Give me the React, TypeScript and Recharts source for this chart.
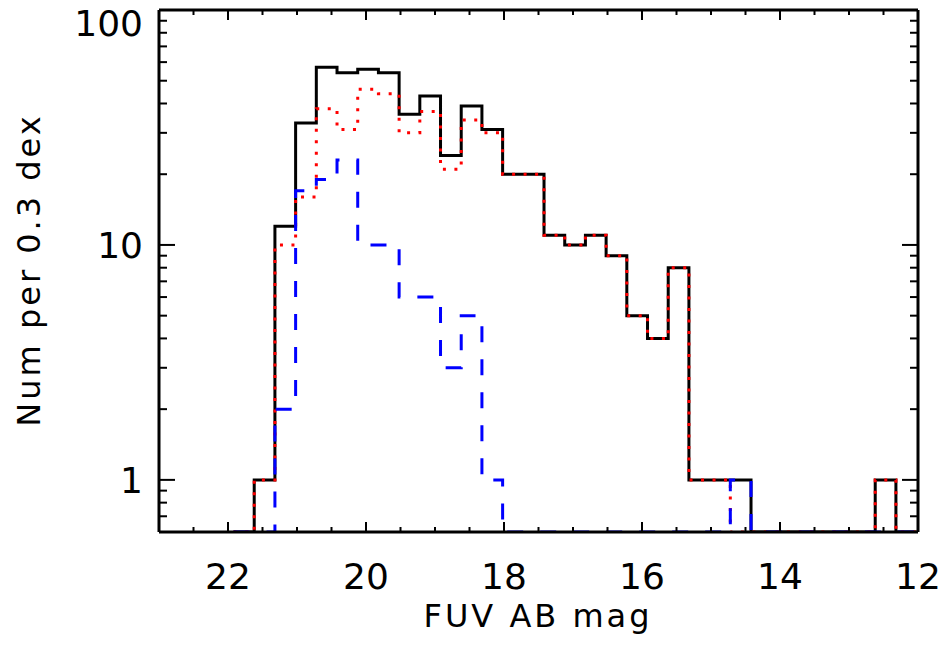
import { LineChart, Line, XAxis, YAxis } from 'recharts';

// bin edges in FUV AB mag, 0.3 mag wide, faint -> bright
const binEdges = [
  21.62, 21.32, 21.02, 20.72, 20.42, 20.12, 19.82, 19.52, 19.22, 18.92, 18.62,
  18.32, 18.02, 17.72, 17.42, 17.12, 16.82, 16.52, 16.22, 15.92, 15.62, 15.32,
  15.02, 14.72, 14.42, 14.12, 13.82, 13.52, 13.22, 12.92, 12.62, 12.32,
];

const totalCounts = [
  1, 12, 33, 57, 54, 56, 54, 36, 43, 24, 39, 31, 20, 20, 11, 10, 11, 9, 5, 4, 8,
  1, 1, 1, 0, 0, 0, 0, 0, 0, 1,
];
const redCounts = [
  1, 10, 16, 38, 31, 46, 44, 30, 37, 21, 34, 30, 20, 20, 11, 10, 11, 9, 5, 4, 8,
  1, 1, 0, 0, 0, 0, 0, 0, 0, 1,
];
const blueCounts = [
  0, 2, 17, 19, 23, 10, 10, 6, 6, 3, 5, 1, 0, 0, 0, 0, 0, 0, 0, 0, 0,
  0, 0, 1, 0, 0, 0, 0, 0, 0, 0,
];

const xTicks = [
  22.5, 22, 21.5, 21, 20.5, 20, 19.5, 19, 18.5, 18, 17.5, 17, 16.5, 16, 15.5,
  15, 14.5, 14, 13.5, 13, 12.5, 12,
];
const xLabels = [22, 20, 18, 16, 14, 12];
const yTicks = [
  0.7, 0.8, 0.9, 1, 2, 3, 4, 5, 6, 7, 8, 9, 10, 20, 30, 40, 50, 60, 70, 80, 90, 100,
];
const yLabels = [1, 10, 100];

const FLOOR = 0.6;
const Y_MAX = 100;
const font = "'DejaVu Sans', sans-serif";

const lift = (v: number) => (v > 0 ? v : FLOOR);

// one row per bin edge; stepAfter draws the bin to the next edge
const rows = [
  { x: 21.92, total: FLOOR, red: FLOOR, blue: FLOOR },
  ...binEdges.slice(0, totalCounts.length).map((x, i) => ({
    x,
    total: lift(totalCounts[i]),
    red: lift(redCounts[i]),
    blue: lift(blueCounts[i]),
  })),
  { x: binEdges[binEdges.length - 1], total: FLOOR, red: FLOOR, blue: FLOOR },
  { x: 12.02, total: FLOOR, red: FLOOR, blue: FLOOR },
];

function XTick(props: any) {
  const { x, y, payload, side } = props;
  const v = payload.value;
  const major = xLabels.includes(v);
  const len = major ? 10 : 5;
  const dir = side === 'bottom' ? -1 : 1;
  return (
    <g>
      <line x1={x} x2={x} y1={y} y2={y + dir * len} stroke="#000" strokeWidth={2} />
      {side === 'bottom' && major && (
        <text x={x} y={y + 57} textAnchor="middle" fontFamily={font} fontSize={36} fill="#000">
          {v}
        </text>
      )}
    </g>
  );
}

function YTick(props: any) {
  const { x, y, payload, side } = props;
  const v = payload.value;
  const major = yLabels.includes(v);
  const len = major ? 16 : 8;
  const dir = side === 'left' ? 1 : -1;
  return (
    <g>
      <line x1={x} x2={x + dir * len} y1={y} y2={y} stroke="#000" strokeWidth={2} />
      {side === 'left' && major && (
        <text
          x={x - 16}
          y={v === 100 ? y + 26 : y + 13}
          textAnchor="end"
          fontFamily={font}
          fontSize={36}
          fill="#000"
        >
          {v}
        </text>
      )}
    </g>
  );
}

const axisLine = { stroke: '#000', strokeWidth: 3 };

export default function App() {
  return (
    <div style={{ position: 'absolute', left: 0, top: 0, width: 944, height: 648, background: '#fff' }}>
      <LineChart width={944} height={648} data={rows} margin={{ top: 0, right: 0, bottom: 0, left: 0 }}>
        <XAxis
          xAxisId="b"
          dataKey="x"
          type="number"
          domain={[12, 23]}
          reversed
          allowDataOverflow
          ticks={xTicks}
          interval={0}
          height={116}
          tickSize={0}
          tickMargin={0}
          tickLine={false}
          axisLine={axisLine}
          tick={(p: any) => <XTick {...p} side="bottom" />}
        />
        <XAxis
          xAxisId="t"
          orientation="top"
          dataKey="x"
          type="number"
          domain={[12, 23]}
          reversed
          allowDataOverflow
          ticks={xTicks}
          interval={0}
          height={10}
          tickSize={0}
          tickMargin={0}
          tickLine={false}
          axisLine={axisLine}
          tick={(p: any) => <XTick {...p} side="top" />}
        />
        <YAxis
          yAxisId="l"
          scale="log"
          domain={[FLOOR, Y_MAX]}
          allowDataOverflow
          ticks={yTicks}
          interval={0}
          width={159}
          tickSize={0}
          tickMargin={0}
          tickLine={false}
          axisLine={axisLine}
          tick={(p: any) => <YTick {...p} side="left" />}
        />
        <YAxis
          yAxisId="r"
          orientation="right"
          scale="log"
          domain={[FLOOR, Y_MAX]}
          allowDataOverflow
          ticks={yTicks}
          interval={0}
          width={26}
          tickSize={0}
          tickMargin={0}
          tickLine={false}
          axisLine={axisLine}
          tick={(p: any) => <YTick {...p} side="right" />}
        />
        <Line
          xAxisId="b"
          yAxisId="l"
          type="stepAfter"
          dataKey="total"
          stroke="#000"
          strokeWidth={3}
          dot={false}
          activeDot={false}
          isAnimationActive={false}
        />
        <Line
          xAxisId="b"
          yAxisId="l"
          type="stepAfter"
          dataKey="red"
          stroke="#ff0000"
          strokeWidth={3}
          strokeDasharray="3 8.5"
          dot={false}
          activeDot={false}
          isAnimationActive={false}
        />
        <Line
          xAxisId="b"
          yAxisId="l"
          type="stepAfter"
          dataKey="blue"
          stroke="#0000ff"
          strokeWidth={3}
          strokeDasharray="16 17"
          dot={false}
          activeDot={false}
          isAnimationActive={false}
        />
      </LineChart>
      <svg width={944} height={648} style={{ position: 'absolute', left: 0, top: 0, pointerEvents: 'none' }}>
        <text x={538} y={627} textAnchor="middle" fontFamily={font} fontSize={32} letterSpacing={3} fill="#000">
          FUV AB mag
        </text>
        <text
          x={40}
          y={270}
          transform="rotate(-90 40 270)"
          textAnchor="middle"
          fontFamily={font}
          fontSize={32}
          letterSpacing={3}
          fill="#000"
        >
          Num per 0.3 dex
        </text>
      </svg>
    </div>
  );
}
